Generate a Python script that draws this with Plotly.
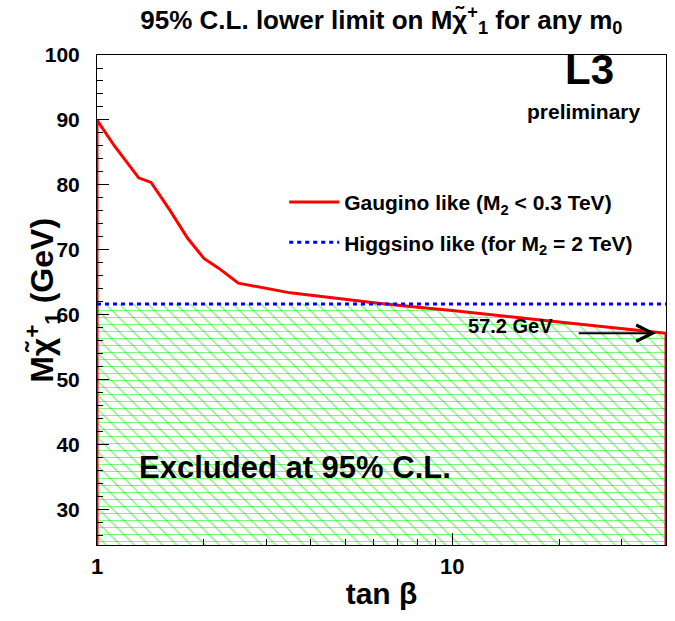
import numpy as np
import plotly.graph_objects as go

# ---------------- data ----------------
tan_beta = [1.0, 1.12, 1.2, 1.31, 1.42, 1.6, 1.8, 2.0, 2.2, 2.5, 3.5, 4.0, 5.0, 6.2, 8.0, 10.0, 20.0, 40.0]
gaugino_limit = [90.0, 86.0, 83.8, 81.1, 80.4, 76.2, 71.8, 68.7, 67.2, 64.9, 63.4, 63.0, 62.4, 61.8, 61.2, 60.7, 58.9, 57.2]
higgsino_limit = 61.7
higgsino_x = [1.0, 40.0]

x_range = [1.0, 40.0]
y_range = [24.6, 100.0]
x_tick_vals = [1, 10]
x_tick_text = ["1", "10"]
x_minor_vals = [2, 3, 4, 5, 6, 7, 8, 9, 20, 30]
y_tick_vals = [30, 40, 50, 60, 70, 80, 90, 100]

arrow_label = "57.2 GeV"
arrow_value = 57.2

FONT = "Liberation Sans, Arial, sans-serif"

# ---------------- excluded region: below min(gaugino, higgsino) ----------------
lx = np.log10(tan_beta)
g = np.array(gaugino_limit)
ex_x, ex_y = [], []
for i in range(len(g)):
    ex_x.append(tan_beta[i])
    ex_y.append(min(g[i], higgsino_limit))
    if i < len(g) - 1 and (g[i] - higgsino_limit) * (g[i + 1] - higgsino_limit) < 0:
        t = (higgsino_limit - g[i]) / (g[i + 1] - g[i])
        ex_x.append(10 ** (lx[i] + t * (lx[i + 1] - lx[i])))
        ex_y.append(higgsino_limit)

fig = go.Figure()

# hatching: horizontal + diagonal lines
for shape, size in [("-", 7), ("\\", 10)]:
    fig.add_trace(go.Scatter(
        x=ex_x, y=ex_y, mode="lines", line=dict(width=0, color="rgba(0,0,0,0)"),
        fill="tozeroy", fillcolor="rgba(0,0,0,0)",
        fillpattern=dict(shape=shape, fgcolor="#00ee00", size=size, solidity=0.15),
        showlegend=False, hoverinfo="skip"))

# red gaugino curve as closed contour
red_x = [tan_beta[0]] + tan_beta + [tan_beta[-1]]
red_y = [y_range[0]] + gaugino_limit + [y_range[0]]
fig.add_trace(go.Scatter(
    x=red_x, y=red_y, mode="lines", line=dict(color="#ff0000", width=3),
    name="Gaugino like (M<sub>2</sub> < 0.3 TeV)", legendgroup="g", cliponaxis=False))

fig.add_trace(go.Scatter(
    x=higgsino_x, y=[higgsino_limit] * 2, mode="lines",
    line=dict(color="#0000ff", width=3, dash="4px,4px"),
    name="Higgsino like (for M<sub>2</sub> = 2 TeV)", legendgroup="h"))

fig.update_layout(
    width=675, height=621,
    margin=dict(l=97, r=9, t=55, b=76, autoexpand=False),
    paper_bgcolor="white", plot_bgcolor="white",
    font=dict(family=FONT, size=20, color="black", weight="bold"),
    title=dict(text="95% C.L. lower limit on Mχ̃<sup>+</sup><sub>1</sub> for any m<sub>0</sub>",
               x=0.565, xanchor="center", y=0.968, yanchor="middle", automargin=False,
               font=dict(size=26, family=FONT, weight="bold")),
    showlegend=True,
    legend=dict(x=0.329, xanchor="left", y=0.741, yanchor="top",
                bgcolor="rgba(0,0,0,0)", tracegroupgap=10,
                font=dict(size=21, family=FONT, weight="bold"),
                itemwidth=50),
    xaxis=dict(type="log", range=[np.log10(x_range[0]), np.log10(x_range[1])],
               tickvals=x_tick_vals, ticktext=x_tick_text, automargin=False,
               ticks="inside", ticklen=12, tickwidth=1, tickcolor="black",
               minor=dict(tickvals=x_minor_vals, ticks="inside", ticklen=6, tickcolor="black", showgrid=False),
               showgrid=False, zeroline=False, showline=True, linecolor="black", linewidth=1, mirror=True,
               tickfont=dict(size=22, family=FONT, weight="bold"), ticklabelstandoff=2,
               title=dict(text="tan β", font=dict(size=30, family=FONT, weight="bold"), standoff=4)),
    yaxis=dict(range=y_range, tickvals=y_tick_vals, automargin=False,
               ticks="inside", ticklen=12, tickwidth=1, tickcolor="black",
               minor=dict(dtick=2, ticks="inside", ticklen=6, tickcolor="black", showgrid=False),
               showgrid=False, zeroline=False, showline=True, linecolor="black", linewidth=1, mirror=True,
               tickfont=dict(size=21, family=FONT, weight="bold"), ticklabelstandoff=12),
)

# y-axis title placed explicitly
fig.add_annotation(x=-0.097, y=0.5, xref="paper", yref="paper", textangle=-90,
                   text="Mχ̃<sup>+</sup><sub>1</sub> (GeV)", showarrow=False,
                   xanchor="center", yanchor="middle",
                   font=dict(size=32, family=FONT, weight="bold"))

fig.add_annotation(x=np.log10(24.3), y=97.7, xref="x", yref="y", text="L3", showarrow=False,
                   font=dict(size=42, family=FONT, weight="bold"))
fig.add_annotation(x=np.log10(23.5), y=91.3, xref="x", yref="y", text="preliminary", showarrow=False,
                   font=dict(size=21, family=FONT, weight="bold"))
fig.add_annotation(x=np.log10(3.6), y=36.6, xref="x", yref="y", text="Excluded at 95% C.L.", showarrow=False,
                   font=dict(size=31, family=FONT, weight="bold"))
fig.add_annotation(x=np.log10(14.6), y=58.3, xref="x", yref="y", text=arrow_label, showarrow=False,
                   font=dict(size=20, family=FONT, weight="bold"))
fig.add_annotation(x=np.log10(37.5), y=arrow_value, ax=np.log10(22.5), ay=arrow_value,
                   xref="x", yref="y", axref="x", ayref="y", text="", showarrow=True,
                   arrowhead=5, arrowsize=1.6, arrowwidth=2, arrowcolor="black")

fig.write_html("out.html", config={"displayModeBar": False},
               post_script="document.body.style.margin='0';")
